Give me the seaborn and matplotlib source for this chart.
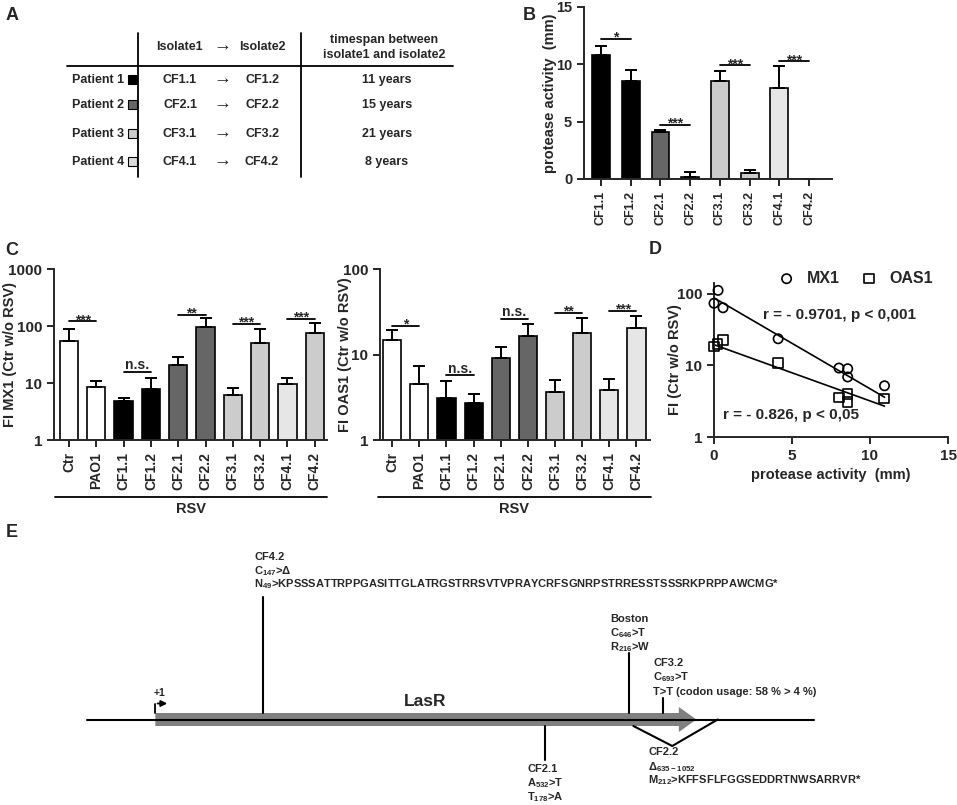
import numpy as np
import pandas as pd
import matplotlib
matplotlib.use('Agg')
import matplotlib.pyplot as plt
from matplotlib.patches import Rectangle, Polygon
import seaborn as sns

sns.set_style('ticks')
plt.rcParams['font.family'] = ['Liberation Sans', 'DejaVu Sans']
plt.rcParams['font.weight'] = 'bold'
plt.rcParams['axes.labelweight'] = 'bold'
plt.rcParams['mathtext.default'] = 'regular'

# ---- data ----
patients = ['Patient 1', 'Patient 2', 'Patient 3', 'Patient 4']
iso1 = ['CF1.1', 'CF2.1', 'CF3.1', 'CF4.1']
iso2 = ['CF1.2', 'CF2.2', 'CF3.2', 'CF4.2']
years = ['11 years', '15 years', '21 years', '8 years']
patient_cols = ['black', '#666666', '#cccccc', '#dddddd']

b_labels = ['CF1.1', 'CF1.2', 'CF2.1', 'CF2.2', 'CF3.1', 'CF3.2', 'CF4.1', 'CF4.2']
b_mean = [10.85, 8.55, 4.1, 0.2, 8.55, 0.52, 7.95, 0.0]
b_top = [11.6, 9.5, 4.28, 0.58, 9.38, 0.78, 9.82, 0.0]
b_cols = ['black', 'black', '#666666', '#666666', '#cccccc', '#cccccc', '#e6e6e6', '#e6e6e6']
b_sig = [(0, 12.2, '*'), (2, 4.72, '***'), (4, 9.9, '***'), (6, 10.25, '***')]

c_labels = ['Ctr', 'PAO1', 'CF1.1', 'CF1.2', 'CF2.1', 'CF2.2', 'CF3.1', 'CF3.2', 'CF4.1', 'CF4.2']
mx1_mean = [55, 8.4, 4.9, 7.9, 21, 97, 6.1, 50, 9.5, 75]
mx1_top = [88, 11.0, 5.5, 12.0, 28.8, 136, 8.2, 90, 12.0, 114]
mx1_cols = ['white', 'white', 'black', 'black', '#666666', '#666666', '#cccccc', '#cccccc', '#e6e6e6', '#cccccc']
mx1_sig = [(0, 120, '***'), (2, 15.5, 'n.s.'), (4, 157, '**'), (6, 108, '***'), (8, 132, '***')]

oas1_mean = [14.7, 4.5, 3.1, 2.74, 9.06, 16.4, 3.62, 17.9, 3.89, 20.5]
oas1_top = [19.3, 7.4, 4.9, 3.43, 12.2, 22.7, 5.1, 26.4, 5.19, 28.1]
oas1_cols = ['white', 'white', 'black', 'black', '#666666', '#666666', '#cccccc', '#cccccc', '#e6e6e6', '#e6e6e6']
oas1_sig = [(0, 21.5, '*'), (2, 5.7, 'n.s.'), (4, 25.9, 'n.s.'), (6, 30.5, '**'), (8, 32.5, '***')]

d_mx1_x = [0.26, 0, 0.58, 4.11, 8.01, 8.57, 8.57, 10.93]
d_mx1_y = [112, 74, 64, 23.6, 9.2, 9.0, 6.9, 5.2]
d_oas1_x = [0, 0.24, 0.58, 4.11, 8.01, 8.57, 8.57, 10.9]
d_oas1_y = [18.4, 19.9, 22.6, 10.8, 3.6, 4.0, 3.08, 3.46]
fit_x = [0, 10.93]
mx1_fit = [88, 3.6]
oas1_fit = [19.5, 2.7]

# gene diagram (nucleotide positions)
mut_nt = [147, 532, 646, 693]
mut_text = [
    ['CF4.2', r'C$_{147}$>Δ',
     r'N$_{49}$>KPSSSATTRPPGASITTGLATRGSTRRSVTVPRAYCRFSGNRPSTRRESSTSSSRKPRPPAWCMG*'],
    ['CF2.1', r'A$_{532}$>T', r'T$_{178}$>A'],
    ['Boston', r'C$_{646}$>T', r'R$_{216}$>W'],
    ['CF3.2', r'C$_{693}$>T', 'T>T (codon usage: 58 % > 4 %)'],
]
del_text = ['CF2.2', r'Δ$_{635-1052}$', r'M$_{212}$>KFFSFLFGGSEDDRTNWSARRVR*']

# ---- figure ----
W, H = 957, 805
fig = plt.figure(figsize=(W / 100, H / 100), dpi=100)


def box(l, t, r, b):
    return [l / W, 1 - b / H, (r - l) / W, (b - t) / H]


def style(ax, xs=9, ys=10.5):
    sns.despine(ax=ax)
    for s in ['left', 'bottom']:
        ax.spines[s].set_linewidth(1.4)
    ax.tick_params(width=1.4, length=5, labelsize=ys)
    ax.tick_params(axis='x', labelsize=xs)
    ax.minorticks_off()


def bars(ax, labels, mean, top, cols, width):
    df = pd.DataFrame({'iso': labels, 'val': mean})
    sns.barplot(data=df, x='iso', y='val', hue='iso', palette=cols, legend=False,
                edgecolor='black', linewidth=1.2, width=width, ax=ax)
    up = np.array(top) - np.array(mean)
    ax.errorbar(np.arange(len(labels)), mean, yerr=[np.zeros(len(labels)), up],
                fmt='none', ecolor='black', elinewidth=1.4, capsize=4, capthick=1.4)
    ax.set_xlabel('')
    ax.set_xticks(range(len(labels)))
    ax.set_xticklabels(labels, rotation=90, fontweight='bold')


def sig(ax, pairs, fs=10):
    for i, y, t in pairs:
        ax.plot([i, i + 1], [y, y], color='black', lw=1.3)
        if t == 'n.s.':
            ax.annotate(t, (i + 0.5, y), xytext=(0, 2), textcoords='offset points',
                        ha='center', va='baseline', fontsize=fs)
        else:
            ax.annotate(t, (i + 0.5, y), xytext=(0, -2), textcoords='offset points',
                        ha='center', va='baseline', fontsize=fs)


# B
ax_b = fig.add_axes(box(584, 7, 832, 179))
bars(ax_b, b_labels, b_mean, b_top, b_cols, 0.6)
sig(ax_b, b_sig)
ax_b.set_ylim(0, 15)
ax_b.set_yticks([0, 5, 10, 15])
ax_b.set_xlim(-0.57, 7.77)
ax_b.set_ylabel('protease activity  (mm)', fontsize=10.5)
ax_b.yaxis.set_label_coords(-0.11, 0.5)
style(ax_b, ys=10.5)

# C left
ax_c1 = fig.add_axes(box(54, 269, 327, 440))
bars(ax_c1, c_labels, mx1_mean, mx1_top, mx1_cols, 0.67)
ax_c1.set_yscale('log')
sig(ax_c1, mx1_sig)
ax_c1.set_ylim(1, 1000)
ax_c1.set_yticks([1, 10, 100, 1000])
ax_c1.set_yticklabels(['1', '10', '100', '1000'])
ax_c1.set_xlim(-0.55, 9.45)
ax_c1.set_ylabel('FI MX1 (Ctr w/o RSV)', fontsize=10.5)
ax_c1.yaxis.set_label_coords(-0.135, 0.5)
style(ax_c1, xs=10, ys=11)

# C right
ax_c2 = fig.add_axes(box(380, 269, 650, 440))
bars(ax_c2, c_labels, oas1_mean, oas1_top, oas1_cols, 0.67)
ax_c2.set_yscale('log')
sig(ax_c2, oas1_sig)
ax_c2.set_ylim(1, 100)
ax_c2.set_yticks([1, 10, 100])
ax_c2.set_yticklabels(['1', '10', '100'])
ax_c2.set_xlim(-0.45, 9.5)
ax_c2.set_ylabel('FI OAS1 (Ctr w/o RSV)', fontsize=10.5)
ax_c2.yaxis.set_label_coords(-0.104, 0.5)
style(ax_c2, xs=10, ys=11)

# D
ax_d = fig.add_axes(box(714, 283, 948, 437))
sns.scatterplot(x=d_mx1_x, y=d_mx1_y, marker='o', s=45, facecolors='none',
                edgecolor='black', linewidth=1.2, label='MX1', ax=ax_d, clip_on=False, zorder=3)
sns.scatterplot(x=d_oas1_x, y=d_oas1_y, marker='s', s=45, facecolors='none',
                edgecolor='black', linewidth=1.2, label='OAS1', ax=ax_d, clip_on=False, zorder=3)
sns.lineplot(x=fit_x, y=mx1_fit, color='black', lw=1.2, ax=ax_d, legend=False)
sns.lineplot(x=fit_x, y=oas1_fit, color='black', lw=1.2, ax=ax_d, legend=False)
ax_d.set_yscale('log')
ax_d.set_ylim(1, 142)
ax_d.set_yticks([1, 10, 100])
ax_d.set_yticklabels(['1', '10', '100'])
ax_d.set_xlim(0, 15)
ax_d.set_xticks([0, 5, 10, 15])
ax_d.set_xlabel('protease activity  (mm)', fontsize=10.5)
ax_d.set_ylabel('FI (Ctr w/o RSV)', fontsize=10.5)
ax_d.yaxis.set_label_coords(-0.137, 0.5)
ax_d.text(3.14, 51, 'r = - 0.9701, p < 0,001', fontsize=11, va='center')
ax_d.text(0.58, 2.03, 'r = - 0.826, p < 0,05', fontsize=11, va='center')
ax_d.legend(loc='center', bbox_to_anchor=(0.59, 1.03), ncol=2, frameon=False,
            fontsize=11.5, handletextpad=0.3, columnspacing=0.8, borderpad=0)
style(ax_d, xs=11, ys=11)

# overlay in pixel coordinates: panel letters, table A, RSV brackets
ov = fig.add_axes([0, 0, 1, 1], facecolor='none')
ov.set_xlim(0, W)
ov.set_ylim(H, 0)
ov.axis('off')
for lab, (x, y) in zip('ABCDE', [(12, 15), (529, 15), (12, 250), (655, 249), (12, 532)]):
    ov.text(x, y, lab, fontsize=13, ha='center', va='center')

ov.plot([138, 138], [33, 177], color='black', lw=1.3)
ov.plot([301, 301], [33, 177], color='black', lw=1.3)
ov.plot([67, 453], [66, 66], color='black', lw=1.3)
ov.text(179, 47, 'Isolate1', fontsize=9, ha='center', va='center')
ov.text(222, 46, '→', fontsize=13, ha='center', va='center')
ov.text(262, 47, 'Isolate2', fontsize=9, ha='center', va='center')
ov.text(384, 40, 'timespan between', fontsize=9, ha='center', va='center')
ov.text(384, 55, 'isolate1 and isolate2', fontsize=9, ha='center', va='center')
for k, y in enumerate([80, 105, 134, 162]):
    ov.text(124, y, patients[k], fontsize=9, ha='right', va='center')
    ov.add_patch(Rectangle((127.5, y - 4.5), 9, 9, facecolor=patient_cols[k], edgecolor='black', lw=0.8))
    ov.text(180, y, iso1[k], fontsize=9, ha='center', va='center')
    ov.text(222, y - 1, '→', fontsize=13, ha='center', va='center')
    ov.text(262, y, iso2[k], fontsize=9, ha='center', va='center')
    ov.text(387, y, years[k], fontsize=9, ha='center', va='center')

for x0, x1 in [(55, 327), (378, 651)]:
    ov.plot([x0, x1], [497, 497], color='black', lw=1.3)
    ov.text((x0 + x1) / 2, 509, 'RSV', fontsize=10.5, ha='center', va='center')

# E: gene diagram, x in nucleotides, y in pixels
ax_e = fig.add_axes([0, 0, 1, 1], facecolor='none')
ax_e.set_xlim(-211.9, 1093.4)
ax_e.set_ylim(H, 0)
ax_e.axis('off')
ax_e.plot([-93, 899], [719.5, 719.5], color='black', lw=1.5)
ax_e.add_patch(Polygon([(0, 713), (714, 713), (714, 707), (738, 719.5), (714, 732),
                        (714, 726), (0, 726)], closed=True, facecolor='#808080', edgecolor='none'))
ax_e.text(368, 701, 'LasR', fontsize=12.5, ha='center', va='center')
ax_e.plot([0, 0], [713, 703.5], color='black', lw=1.3)
ax_e.annotate('', xy=(20, 703.5), xytext=(-0.8, 703.5),
              arrowprops=dict(arrowstyle='-|>', color='black', lw=1.3, mutation_scale=9))
ax_e.text(6, 693, '+1', fontsize=7.5, ha='center', va='center')

mut_y = [(597, 713), (726, 760), (653, 713), (698, 713)]
mut_ty = [[557, 571, 584], [769, 783, 797], [619, 633, 647], [663, 677, 692]]
mut_dx = [-9, -18, -19, -10]
for nt, (y0, y1), ty, dx, lines in zip(mut_nt, mut_y, mut_ty, mut_dx, mut_text):
    ax_e.plot([nt, nt], [y0, y1], color='black', lw=1.5)
    for yy, s in zip(ty, lines):
        ax_e.annotate(s, (nt, yy), xytext=(dx * 0.72, 0), textcoords='offset points',
                      ha='left', va='center', fontsize=8)

ax_e.plot([652, 705, 767], [726, 746, 719.5], color='black', lw=1.5)
for yy, s in zip([752, 767, 780], del_text):
    ax_e.annotate(s, (705, yy), xytext=(-24 * 0.72, 0), textcoords='offset points',
                  ha='left', va='center', fontsize=8)

fig.savefig('out.png', dpi=100)
